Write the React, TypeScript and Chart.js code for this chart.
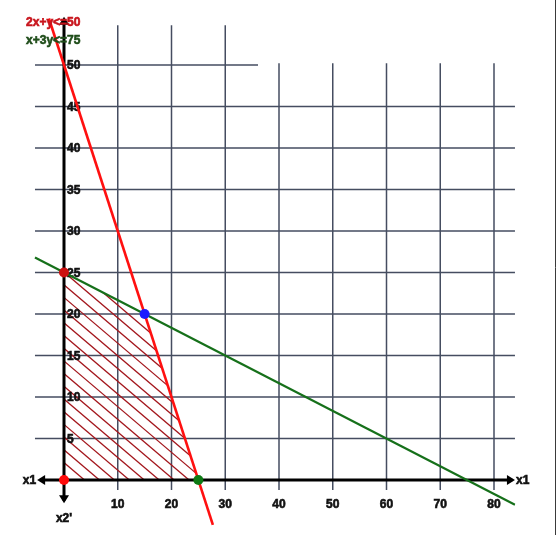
import React, { useEffect, useRef } from "react";
import { Chart, registerables } from "chart.js";

Chart.register(...registerables);

// ---- data ----
const xTicks = [10, 20, 30, 40, 50, 60, 70, 80];
const yTicks = [5, 10, 15, 20, 25, 30, 35, 40, 45, 50];
const feasibleRegion = [
  { x: 0, y: 0 },
  { x: 0, y: 25 },
  { x: 15, y: 20 },
  { x: 25, y: 0 },
];
// constraint 2x + y <= 50 (visible segment)
const redLine = [
  { x: -2.8, y: 55.6 },
  { x: 27.7, y: -5.4 },
];
// constraint x + 3y <= 75 (visible segment)
const greenLine = [
  { x: -5.4, y: 26.8 },
  { x: 83.9, y: -2.97 },
];
const redPoints = [
  { x: 0, y: 25 },
  { x: 0, y: 0 },
];
const bluePoints = [{ x: 15, y: 20 }];
const greenPoints = [{ x: 25, y: 0 }];
const labelRed = "2x+y<=50";
const labelGreen = "x+3y<=75";

const GRID = "#454d60";
const FONT = "bold 12px 'Liberation Sans', Arial, sans-serif";

function boldText(ctx: any, s: string, x: number, y: number) {
  ctx.lineWidth = 0.6;
  ctx.strokeStyle = ctx.fillStyle;
  ctx.strokeText(s, x, y);
  ctx.fillText(s, x, y);
}

const backgroundPlugin = {
  id: "lpBackground",
  beforeDatasetsDraw(chart: any) {
    const { ctx, scales } = chart;
    const X = (v: number) => scales.x.getPixelForValue(v);
    const Y = (v: number) => scales.y.getPixelForValue(v);
    ctx.save();
    // right border
    ctx.strokeStyle = "#3a3a3a";
    ctx.lineWidth = 1;
    ctx.beginPath();
    ctx.moveTo(555.5, 0);
    ctx.lineTo(555.5, 535);
    ctx.stroke();

    // grid
    ctx.strokeStyle = GRID;
    ctx.lineWidth = 1.5;
    for (const t of yTicks) {
      ctx.beginPath();
      ctx.moveTo(X(-5.4), Y(t));
      ctx.lineTo(X(t === 50 ? 36.1 : 83.9), Y(t));
      ctx.stroke();
    }
    for (const t of xTicks) {
      ctx.beginPath();
      ctx.moveTo(X(t), Y(t <= 30 ? 54.8 : 50.2));
      ctx.lineTo(X(t), Y(-1.2));
      ctx.stroke();
    }

    // hatched feasible region
    ctx.save();
    ctx.beginPath();
    feasibleRegion.forEach((p, i) => {
      if (i === 0) ctx.moveTo(X(p.x), Y(p.y));
      else ctx.lineTo(X(p.x), Y(p.y));
    });
    ctx.closePath();
    ctx.clip();
    ctx.strokeStyle = "#a3161c";
    ctx.lineWidth = 1.3;
    const ox = X(0), oy = Y(0);
    const k = 0.85;
    const step = 12.7;
    for (let c = -500; c <= 100; c += step) {
      const x1 = ox - 50, x2 = ox + 250;
      ctx.beginPath();
      ctx.moveTo(x1, oy + c + k * (x1 - ox));
      ctx.lineTo(x2, oy + c + k * (x2 - ox));
      ctx.stroke();
    }
    ctx.restore();

    // axes
    ctx.strokeStyle = "#000";
    ctx.fillStyle = "#000";
    ctx.lineWidth = 3;
    ctx.beginPath();
    ctx.moveTo(X(-4.4), oy);
    ctx.lineTo(X(83.4), oy);
    ctx.moveTo(ox, Y(55.3));
    ctx.lineTo(ox, Y(-2.5));
    ctx.stroke();
    const arrow = (tx: number, ty: number, dx: number, dy: number) => {
      const L = 8, W = 5;
      ctx.beginPath();
      ctx.moveTo(tx, ty);
      ctx.lineTo(tx - dx * L - dy * W, ty - dy * L + dx * W);
      ctx.lineTo(tx - dx * L + dy * W, ty - dy * L - dx * W);
      ctx.closePath();
      ctx.fill();
    };
    arrow(X(83.9), oy, 1, 0);
    arrow(X(-5.0), oy, -1, 0);
    arrow(ox, Y(55.8), 0, -1);
    arrow(ox, Y(-2.8), 0, 1);

    // tick labels
    ctx.font = FONT;
    ctx.fillStyle = "#111";
    ctx.textBaseline = "middle";
    ctx.textAlign = "left";
    for (const t of yTicks) boldText(ctx, String(t), ox + 3, Y(t) + 1);
    ctx.textAlign = "center";
    for (const t of xTicks) boldText(ctx, String(t), X(t), oy + 25);

    // axis names
    ctx.textAlign = "right";
    boldText(ctx, "x1", X(-5.0) - 1, oy + 1);
    ctx.textAlign = "left";
    boldText(ctx, "x1", X(83.9) + 1, oy + 1);
    ctx.textAlign = "center";
    boldText(ctx, "x2'", ox, Y(-2.8) + 15);
    ctx.restore();
  },
  afterDraw(chart: any) {
    const { ctx, scales } = chart;
    const X = (v: number) => scales.x.getPixelForValue(v);
    ctx.save();
    ctx.font = FONT;
    ctx.textAlign = "center";
    ctx.textBaseline = "middle";
    ctx.fillStyle = "#c8141c";
    boldText(ctx, labelRed, X(-2), 23);
    ctx.fillStyle = "#1f4d1a";
    boldText(ctx, labelGreen, X(-2), 41);
    ctx.restore();
  },
};

export default function App() {
  const ref = useRef<HTMLCanvasElement | null>(null);
  useEffect(() => {
    if (!ref.current) return;
    const chart = new Chart(ref.current, {
      type: "scatter",
      data: {
        datasets: [
          {
            data: redPoints,
            pointRadius: 5,
            pointBackgroundColor: ["#cc1010", "#ff0a0a"],
            pointBorderWidth: 0,
            borderColor: "transparent",
          },
          {
            data: bluePoints,
            pointRadius: 5,
            pointBackgroundColor: "#1a1aff",
            pointBorderWidth: 0,
            borderColor: "transparent",
          },
          {
            data: greenPoints,
            pointRadius: 5,
            pointBackgroundColor: "#0d7a14",
            pointBorderWidth: 0,
            borderColor: "transparent",
          },
          {
            data: redLine,
            showLine: true,
            borderColor: "#ff1010",
            borderWidth: 2.6,
            pointRadius: 0,
          },
          {
            data: greenLine,
            showLine: true,
            borderColor: "#16701a",
            borderWidth: 2.2,
            pointRadius: 0,
          },
        ],
      },
      options: {
        responsive: false,
        animation: false,
        events: [],
        layout: { padding: { left: 31.75, right: 44.5, top: 15.2, bottom: 5.2 } },
        plugins: { legend: { display: false }, tooltip: { enabled: false } },
        scales: {
          x: { type: "linear", min: -6, max: 84, display: false },
          y: { type: "linear", min: -6, max: 56, display: false },
        },
      },
      plugins: [backgroundPlugin],
    });
    return () => chart.destroy();
  }, []);
  return (
    <div style={{ position: "fixed", left: 0, top: 0, width: 560, height: 535, background: "#fff" }}>
      <canvas ref={ref} width={560} height={535} style={{ display: "block" }} />
    </div>
  );
}
